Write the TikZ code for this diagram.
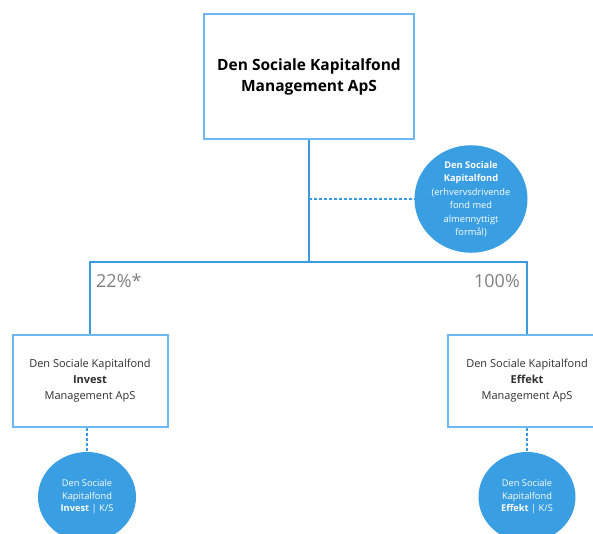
\documentclass[tikz,border=0pt]{standalone}
\usepackage{fontspec}
\setmainfont{Open Sans}
\usetikzlibrary{shapes.geometric}
\definecolor{boxblue}{HTML}{6DB8F2}
\definecolor{lineblue}{HTML}{3A9BE0}
\definecolor{fundblue}{HTML}{3A9EE2}
\definecolor{pctgray}{HTML}{808080}
\definecolor{textgray}{HTML}{303030}
\begin{document}
\begin{tikzpicture}[x=1pt,y=-1pt,
    company/.style={draw=boxblue, line width=2pt, fill=white, text=textgray, align=center, inner sep=0pt},
    fund/.style={ellipse, fill=fundblue, text=white, align=center, inner sep=0pt},
    owner/.style={draw=lineblue, line width=1.8pt},
    link/.style={draw=lineblue, line width=1.3pt, dash pattern=on 3pt off 2pt},
    pct/.style={text=pctgray, font=\fontsize{18}{20}\selectfont, inner sep=0pt}]
  \useasboundingbox (0,0) rectangle (593,533);
  % companies
  \node[company, minimum width=210, minimum height=125, text=black,
        font=\bfseries\fontsize{15.5}{21}\selectfont] (mgmt) at (309,76.5)
        {Den Sociale Kapitalfond\\Management ApS};
  \node[company, minimum width=155, minimum height=92,
        font=\fontsize{11}{16}\selectfont] (invest) at (90,381)
        {Den Sociale Kapitalfond\\\textbf{Invest}\\Management ApS};
  \node[company, minimum width=158, minimum height=92,
        font=\fontsize{11}{16}\selectfont] (effekt) at (527,381)
        {Den Sociale Kapitalfond\\\textbf{Effekt}\\Management ApS};
  % funds
  \node[fund, minimum width=113, minimum height=96,
        font=\fontsize{9.3}{13.5}\selectfont] (dskfond) at (471,199)
        {\textbf{Den Sociale}\\\textbf{Kapitalfond}\\(erhvervsdrivende\\fond med\\almennyttigt\\formål)};
  \node[fund, minimum width=98, minimum height=90,
        font=\fontsize{9.3}{12.5}\selectfont] (investks) at (87,497)
        {Den Sociale\\Kapitalfond\\\textbf{Invest} | K/S};
  \node[fund, minimum width=97, minimum height=90,
        font=\fontsize{9.3}{12.5}\selectfont] (effektks) at (527,497)
        {Den Sociale\\Kapitalfond\\\textbf{Effekt} | K/S};
  % ownership lines
  \coordinate (split) at (309,262);
  \coordinate (lknee) at (90,262);
  \coordinate (rknee) at (527,262);
  \draw[owner] (mgmt.south) -- (split);
  \draw[owner] (invest.north) -- (lknee) -- (rknee) -- (effekt.north);
  \draw[link] (split |- dskfond.west) -- (dskfond.west);
  \draw[link] (invest.south -| investks.north) -- (investks.north);
  \draw[link] (effekt.south) -- (effektks.north);
  % shares
  \node[pct, anchor=west] (pinvest) at (96,281) {22\%*};
  \node[pct, anchor=east] (peffekt) at (520,281) {100\%};
\end{tikzpicture}
\end{document}
